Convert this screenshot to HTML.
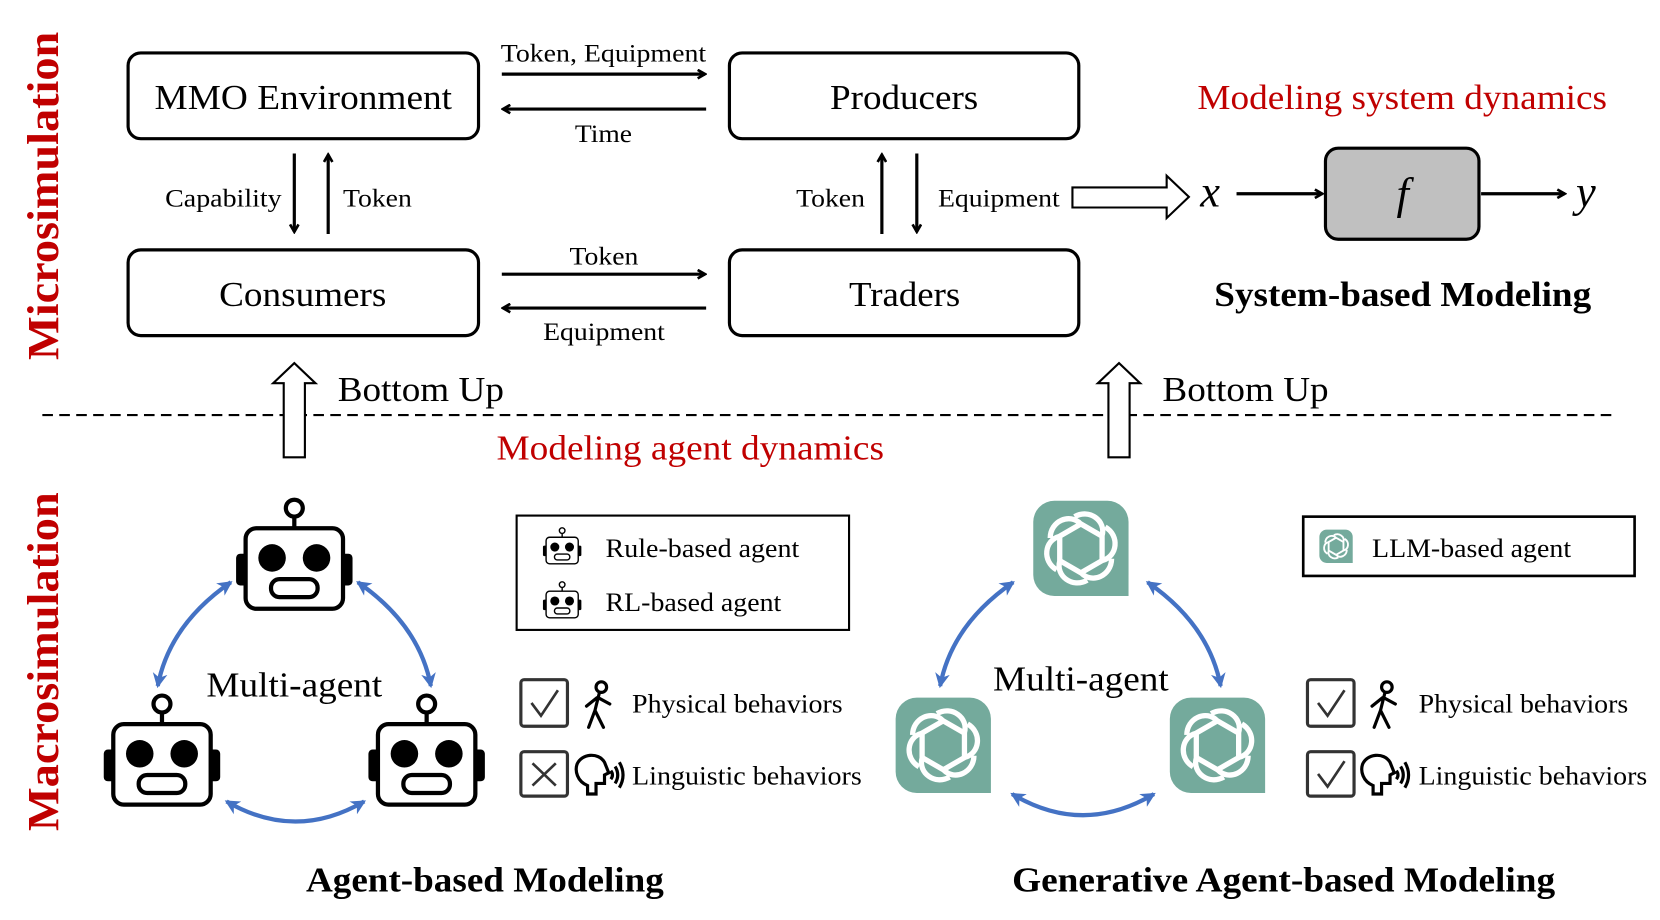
<!DOCTYPE html>
<html><head><meta charset="utf-8"><style>
html,body{margin:0;padding:0;background:#fff;}
svg{display:block;}
text{font-family:"Liberation Serif",serif;}
</style></head><body>
<svg width="1660" height="920" viewBox="0 0 1568 869" preserveAspectRatio="none" xmlns="http://www.w3.org/2000/svg">
<defs>
<marker id="ah" markerWidth="10" markerHeight="10" refX="8" refY="5" orient="auto" markerUnits="userSpaceOnUse">
<path d="M1,1 L8,5 L1,9" fill="none" stroke="#000" stroke-width="2.5"/></marker>
<marker id="bh" markerWidth="16" markerHeight="16" refX="12" refY="8" orient="auto-start-reverse" markerUnits="userSpaceOnUse">
<path d="M0,1 L14,8 L0,15 L4,8 Z" fill="#4472c4"/></marker>
<g id="robot">
<line x1="0" y1="-38" x2="0" y2="-50" stroke="#000" stroke-width="4"/>
<circle cx="0" cy="-57" r="8" fill="#fff" stroke="#000" stroke-width="4"/>
<rect x="-55" y="-14" width="12" height="30" rx="4" fill="#000"/>
<rect x="43" y="-14" width="12" height="30" rx="4" fill="#000"/>
<rect x="-46" y="-38" width="92" height="76" rx="10" fill="#fff" stroke="#000" stroke-width="4"/>
<circle cx="-21" cy="-10" r="13" fill="#000"/>
<circle cx="21" cy="-10" r="13" fill="#000"/>
<rect x="-22" y="10" width="44" height="17" rx="8" fill="#fff" stroke="#000" stroke-width="4"/>
</g>
<g id="knot" fill="none" stroke="#fff" stroke-width="5">
<g id="petal"><path d="M-6,-30 C8,-38 24,-26 20,-12 L20,12"/></g>
<use href="#petal" transform="rotate(60)"/>
<use href="#petal" transform="rotate(120)"/>
<use href="#petal" transform="rotate(180)"/>
<use href="#petal" transform="rotate(240)"/>
<use href="#petal" transform="rotate(300)"/>
</g>
<g id="gpt">
<path d="M-25,-45 H25 A20,20 0 0 1 45,-25 V45 H-25 A20,20 0 0 1 -45,25 V-25 A20,20 0 0 1 -25,-45 Z" fill="#74aa9c"/>
<use href="#knot"/>
</g>
<g id="walker" fill="none" stroke="#000" stroke-width="3" stroke-linecap="round">
<circle cx="2" cy="-16" r="5"/>
<path d="M0,-10 L-4,6 L4,22 M-4,6 L-10,22 M-2,-6 L-12,2 M-1,-6 L10,0"/>
</g>
<g id="head" fill="none" stroke="#000" stroke-width="3">
<path d="M-6,18 V10 C-16,6 -18,-4 -16,-10 C-12,-20 4,-22 10,-12 L14,-2 L10,0 V8 H2 V18 Z"/>
<path d="M16,-4 Q19,0 16,4 M20,-8 Q25,0 20,8 M24,-12 Q31,0 24,12"/>
</g>
</defs>

<g lengthAdjust="spacingAndGlyphs">
<text transform="translate(55,185) rotate(-90)" text-anchor="middle" font-size="42" font-weight="bold" fill="#c00000" textLength="310" lengthAdjust="spacingAndGlyphs">Microsimulation</text>
<text transform="translate(55,625) rotate(-90)" text-anchor="middle" font-size="42" font-weight="bold" fill="#c00000" textLength="320" lengthAdjust="spacingAndGlyphs">Macrosimulation</text>
</g>

<g fill="#fff" stroke="#000" stroke-width="3">
<rect x="121" y="50" width="331" height="81" rx="12"/>
<rect x="689" y="50" width="330" height="81" rx="12"/>
<rect x="121" y="236" width="331" height="81" rx="12"/>
<rect x="689" y="236" width="330" height="81" rx="12"/>
</g>
<g font-size="33">
<text x="146" y="103" textLength="281" lengthAdjust="spacingAndGlyphs">MMO Environment</text>
<text x="784" y="103" textLength="140" lengthAdjust="spacingAndGlyphs">Producers</text>
<text x="207" y="289" textLength="158" lengthAdjust="spacingAndGlyphs">Consumers</text>
<text x="802" y="289" textLength="105" lengthAdjust="spacingAndGlyphs">Traders</text>
</g>

<g stroke="#000" stroke-width="3" marker-end="url(#ah)">
<line x1="474" y1="70" x2="666" y2="70"/>
<line x1="667" y1="103" x2="475" y2="103"/>
<line x1="474" y1="259" x2="666" y2="259"/>
<line x1="667" y1="291" x2="475" y2="291"/>
<line x1="278" y1="145" x2="278" y2="219"/>
<line x1="310" y1="221" x2="310" y2="146"/>
<line x1="833" y1="221" x2="833" y2="146"/>
<line x1="866" y1="145" x2="866" y2="219"/>
<line x1="1168" y1="183" x2="1249" y2="183"/>
<line x1="1399" y1="183" x2="1478" y2="183"/>
</g>
<g font-size="24">
<text x="473" y="58" textLength="194" lengthAdjust="spacingAndGlyphs">Token, Equipment</text>
<text x="543" y="134" textLength="54" lengthAdjust="spacingAndGlyphs">Time</text>
<text x="538" y="250" textLength="65" lengthAdjust="spacingAndGlyphs">Token</text>
<text x="513" y="321" textLength="115" lengthAdjust="spacingAndGlyphs">Equipment</text>
<text x="156" y="195" textLength="110" lengthAdjust="spacingAndGlyphs">Capability</text>
<text x="324" y="195" textLength="65" lengthAdjust="spacingAndGlyphs">Token</text>
<text x="752" y="195" textLength="65" lengthAdjust="spacingAndGlyphs">Token</text>
<text x="886" y="195" textLength="115" lengthAdjust="spacingAndGlyphs">Equipment</text>
</g>

<path d="M1013,177 H1102 V166 L1123,186 L1102,206 V196 H1013 Z" fill="#fff" stroke="#000" stroke-width="2"/>
<text x="1143" y="195" font-size="42" font-style="italic" text-anchor="middle">x</text>
<rect x="1252" y="140" width="145" height="86" rx="12" fill="#c0c0c0" stroke="#000" stroke-width="3"/>
<text x="1325" y="197" font-size="42" font-style="italic" text-anchor="middle">f</text>
<text x="1498" y="195" font-size="42" font-style="italic" text-anchor="middle">y</text>
<text x="1131" y="103" font-size="33" fill="#c00000" textLength="387" lengthAdjust="spacingAndGlyphs">Modeling system dynamics</text>
<text x="1147" y="289" font-size="33" font-weight="bold" textLength="356" lengthAdjust="spacingAndGlyphs">System-based Modeling</text>

<line x1="40" y1="392" x2="1522" y2="392" stroke="#000" stroke-width="2" stroke-dasharray="10,6"/>

<path d="M268,432 V362 H258 L278,343 L298,362 H288 V432 Z" fill="#fff" stroke="#000" stroke-width="2"/>
<path d="M1047,432 V362 H1037 L1057,343 L1077,362 H1067 V432 Z" fill="#fff" stroke="#000" stroke-width="2"/>
<text x="319" y="379" font-size="33" textLength="157" lengthAdjust="spacingAndGlyphs">Bottom Up</text>
<text x="1098" y="379" font-size="33" textLength="157" lengthAdjust="spacingAndGlyphs">Bottom Up</text>
<text x="469" y="434" font-size="33" fill="#c00000" textLength="366" lengthAdjust="spacingAndGlyphs">Modeling agent dynamics</text>

<use href="#robot" transform="translate(278,537)"/>
<use href="#robot" transform="translate(153,722)"/>
<use href="#robot" transform="translate(403,722)"/>
<g fill="none" stroke="#4472c4" stroke-width="4" marker-start="url(#bh)" marker-end="url(#bh)">
<path d="M218,550 Q160,590 149,648"/>
<path d="M338,550 Q396,590 407,648"/>
<path d="M214,757 Q279,795 344,757"/>
<path d="M957,550 Q899,590 888,648"/>
<path d="M1084,550 Q1142,590 1153,648"/>
<path d="M956,750 Q1023,790 1090,750"/>
</g>
<text x="195" y="658" font-size="33" textLength="166" lengthAdjust="spacingAndGlyphs">Multi-agent</text>

<rect x="488" y="487" width="314" height="108" fill="#fff" stroke="#000" stroke-width="2"/>
<use href="#robot" transform="translate(531,520) scale(0.33)"/>
<use href="#robot" transform="translate(531,571) scale(0.33)"/>
<text x="572" y="526" font-size="25" textLength="183" lengthAdjust="spacingAndGlyphs">Rule-based agent</text>
<text x="572" y="577" font-size="25" textLength="166" lengthAdjust="spacingAndGlyphs">RL-based agent</text>

<rect x="492" y="642" width="44" height="44" rx="3" fill="#fff" stroke="#333" stroke-width="3"/>
<path d="M502,664 L511,676 L527,652" fill="none" stroke="#333" stroke-width="2.5"/>
<use href="#walker" transform="translate(566,665)"/>
<text x="597" y="673" font-size="25" textLength="199" lengthAdjust="spacingAndGlyphs">Physical behaviors</text>
<rect x="492" y="710" width="44" height="42" rx="3" fill="#fff" stroke="#333" stroke-width="3"/>
<path d="M503,721 L525,742 M525,721 L503,742" stroke="#333" stroke-width="2.5"/>
<use href="#head" transform="translate(561,732)"/>
<text x="597" y="741" font-size="25" textLength="217" lengthAdjust="spacingAndGlyphs">Linguistic behaviors</text>
<text x="289" y="842" font-size="33" font-weight="bold" textLength="338" lengthAdjust="spacingAndGlyphs">Agent-based Modeling</text>

<use href="#gpt" transform="translate(1021,518)"/>
<use href="#gpt" transform="translate(891,704)"/>
<use href="#gpt" transform="translate(1150,704)"/>
<text x="938" y="652" font-size="33" textLength="166" lengthAdjust="spacingAndGlyphs">Multi-agent</text>

<rect x="1231" y="488" width="313" height="56" fill="#fff" stroke="#000" stroke-width="2.5"/>
<use href="#gpt" transform="translate(1262,516) scale(0.35)"/>
<text x="1296" y="526" font-size="25" textLength="188" lengthAdjust="spacingAndGlyphs">LLM-based agent</text>

<rect x="1235" y="642" width="44" height="44" rx="3" fill="#fff" stroke="#333" stroke-width="3"/>
<path d="M1245,664 L1254,676 L1270,652" fill="none" stroke="#333" stroke-width="2.5"/>
<use href="#walker" transform="translate(1308,665)"/>
<text x="1340" y="673" font-size="25" textLength="198" lengthAdjust="spacingAndGlyphs">Physical behaviors</text>
<rect x="1235" y="710" width="44" height="42" rx="3" fill="#fff" stroke="#333" stroke-width="3"/>
<path d="M1245,731 L1254,743 L1270,719" fill="none" stroke="#333" stroke-width="2.5"/>
<use href="#head" transform="translate(1303,732)"/>
<text x="1340" y="741" font-size="25" textLength="216" lengthAdjust="spacingAndGlyphs">Linguistic behaviors</text>
<text x="956" y="842" font-size="33" font-weight="bold" textLength="513" lengthAdjust="spacingAndGlyphs">Generative Agent-based Modeling</text>
</svg>
</body></html>
